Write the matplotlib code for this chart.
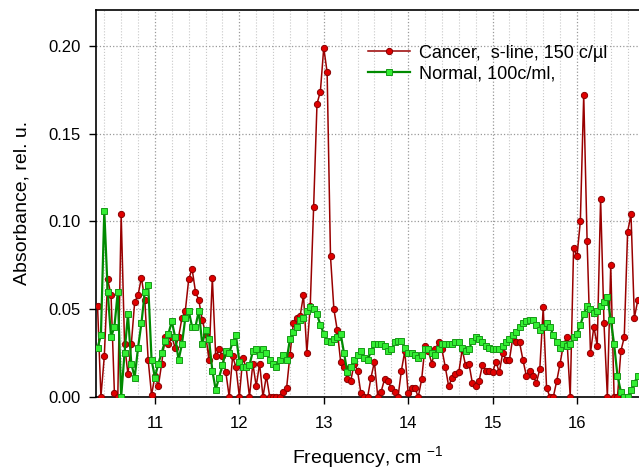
import numpy as np
import matplotlib
matplotlib.use("Agg")
import matplotlib.pyplot as plt
from matplotlib.ticker import MultipleLocator, FormatStrFormatter

plt.rcParams['font.family'] = ['Liberation Sans', 'DejaVu Sans']
plt.rcParams['mathtext.fontset'] = 'custom'
plt.rcParams['mathtext.rm'] = 'Liberation Sans'
plt.rcParams['mathtext.it'] = 'Liberation Sans:italic'

# frequency sampling grid of the spectra, cm-1
freq = np.round(np.arange(10.32, 16.7201, 0.04), 2)

# Normal, 100c/ml
normal = [
    0.028, 0.035, 0.106, 0.060, 0.034, 0.040, 0.060, 0.000, 0.025, 0.047, 0.019,
    0.011, 0.028, 0.042, 0.060, 0.064, 0.021, 0.011, 0.019, 0.025, 0.032, 0.036,
    0.043, 0.034, 0.021, 0.030, 0.045, 0.049, 0.040, 0.040, 0.049, 0.030, 0.038,
    0.033, 0.015, 0.004, 0.011, 0.018, 0.026, 0.025, 0.031, 0.035, 0.020, 0.017,
    0.017, 0.018, 0.026, 0.027, 0.024, 0.027, 0.025, 0.021, 0.019, 0.017, 0.021,
    0.024, 0.021, 0.033, 0.037, 0.040, 0.044, 0.045, 0.049, 0.051, 0.050, 0.047,
    0.041, 0.036, 0.032, 0.031, 0.033, 0.034, 0.036, 0.025, 0.014, 0.017, 0.021,
    0.024, 0.026, 0.022, 0.021, 0.026, 0.030, 0.030, 0.030, 0.029, 0.026, 0.027,
    0.031, 0.032, 0.032, 0.028, 0.025, 0.025, 0.024, 0.022, 0.024, 0.027,
    0.027, 0.025, 0.024, 0.027, 0.030, 0.030, 0.030, 0.030, 0.031, 0.031, 0.028,
    0.026, 0.027, 0.032, 0.034, 0.033, 0.031, 0.029, 0.028, 0.027, 0.027, 0.027,
    0.029, 0.031, 0.033, 0.035, 0.037, 0.040, 0.042, 0.043, 0.044, 0.044, 0.041,
    0.038, 0.040, 0.042, 0.040, 0.035, 0.031, 0.028, 0.030, 0.029, 0.030, 0.034,
    0.036, 0.041, 0.047, 0.052, 0.050, 0.048, 0.049, 0.052, 0.054, 0.057, 0.044,
    0.030, 0.012, 0.003, 0.000, 0.000, 0.004, 0.008, 0.012,
]

# Cancer, s-line, 150 c/ul
cancer = [
    0.052, 0.000, 0.023, 0.067, 0.058, 0.002, 0.000, 0.104, 0.030, 0.013, 0.030,
    0.054, 0.058, 0.068, 0.055, 0.021, 0.001, 0.012, 0.006, 0.019, 0.034, 0.030,
    0.034, 0.028, 0.034, 0.045, 0.049, 0.067, 0.073, 0.060, 0.055, 0.044, 0.036,
    0.021, 0.068, 0.023, 0.027, 0.023, 0.014, 0.000, 0.023, 0.017, 0.000, 0.022,
    0.017, 0.000, 0.019, 0.006, 0.019, 0.000, 0.012, 0.000, 0.000, 0.000, 0.000,
    0.003, 0.005, 0.024, 0.042, 0.045, 0.046, 0.058, 0.025, 0.052, 0.108, 0.167,
    0.174, 0.199, 0.185, 0.080, 0.050, 0.038, 0.020, 0.017, 0.010, 0.009, 0.019,
    0.015, 0.002, 0.000, 0.000, 0.011, 0.020, 0.000, 0.003, 0.010, 0.009, 0.005,
    0.003, 0.000, 0.015, 0.026, 0.002, 0.005, 0.005, 0.000, 0.010, 0.029,
    0.026, 0.019, 0.027, 0.031, 0.027, 0.017, 0.006, 0.011, 0.013, 0.014, 0.027,
    0.018, 0.019, 0.008, 0.006, 0.009, 0.018, 0.015, 0.015, 0.014, 0.020, 0.014,
    0.025, 0.021, 0.021, 0.034, 0.031, 0.031, 0.021, 0.012, 0.015, 0.012, 0.008,
    0.016, 0.051, 0.005, 0.000, 0.000, 0.009, 0.019, 0.030, 0.034, 0.000, 0.085,
    0.080, 0.100, 0.172, 0.089, 0.025, 0.040, 0.029, 0.113, 0.042, 0.000, 0.075,
    0.000, 0.000, 0.026, 0.034, 0.094, 0.104, 0.045, 0.055,
]

fig = plt.figure(figsize=(6.39, 4.73), dpi=100)
ax = fig.add_axes([0.150, 0.161, 0.852, 0.818])

ax.plot(freq, cancer, '-o', color='#990000', lw=1.1, ms=4.5,
        mfc='#e00000', mec='#880000', mew=0.7,
        label=u'Cancer,  s-line, 150 c/\u00b5l', zorder=3)
ax.plot(freq, normal, '-s', color='#008a00', lw=1.6, ms=4.5,
        mfc='#33ee33', mec='#179917', mew=0.7,
        label='Normal, 100c/ml,', zorder=4)

ax.set_xlim(10.30, 16.75)
ax.set_ylim(0, 0.2205)
ax.xaxis.set_major_locator(MultipleLocator(1))
ax.xaxis.set_minor_locator(MultipleLocator(0.2))
ax.yaxis.set_major_locator(MultipleLocator(0.05))
ax.yaxis.set_major_formatter(FormatStrFormatter('%.2f'))

ax.grid(which='major', color='#999999', ls=':', lw=0.9)
ax.grid(which='minor', axis='x', color='#c8c8c8', ls=':', lw=0.8)
ax.set_axisbelow(True)

ax.tick_params(which='major', direction='out', length=5, width=1,
               labelsize=12, pad=6)
ax.tick_params(which='minor', length=0)
ax.tick_params(axis='x', pad=9)
for s in ['left', 'top', 'bottom']:
    ax.spines[s].set_linewidth(1.2)
ax.spines['right'].set_visible(False)

ax.set_xlabel('Frequency, cm $^{-1}$', fontsize=14, labelpad=9)
ax.set_ylabel('Absorbance, rel. u.', fontsize=14, labelpad=13)

ax.legend(loc='upper left', bbox_to_anchor=(0.47, 0.952), frameon=False,
          fontsize=13, handlelength=2.3, handletextpad=0.55, labelspacing=0.2)

plt.savefig('out.png', dpi=100)
plt.close()
